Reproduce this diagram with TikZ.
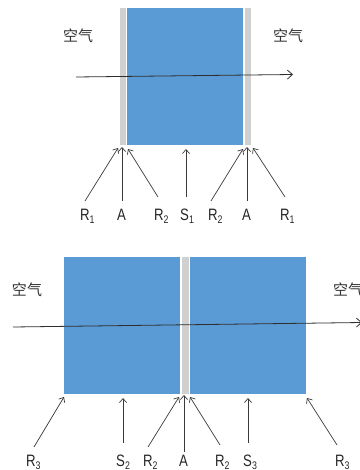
\documentclass[tikz,border=0pt]{standalone}
\usepackage{fontspec}
\newfontfamily\labfont[FakeStretch=0.8]{Liberation Sans}
\newfontfamily\cjkfont{Noto Sans CJK SC}
\usetikzlibrary{arrows.meta}
\definecolor{slab}{HTML}{5B9BD5}
\definecolor{film}{HTML}{D0D0D0}
\definecolor{ink}{HTML}{3A3A3A}
\newcommand{\lbl}[2]{#1{\fontsize{11}{11}\selectfont\raisebox{-3.5pt}{#2}}}
\tikzset{
  slabbox/.style={fill=slab, draw=none},
  filmbox/.style={fill=film, draw=none},
  pointer/.style={draw=ink, line width=0.7pt, -{Straight Barb[length=4pt,width=7pt]}},
  ray/.style={draw=ink!80!black, line width=0.8pt, -{Straight Barb[length=5pt,width=9pt]}},
  lab/.style={inner sep=0pt, anchor=base west, font=\labfont\fontsize{16.5}{16.5}\selectfont, text=black!85},
  air/.style={inner sep=0pt, font=\cjkfont\fontsize{15}{15}\selectfont, text=black!80}
}
\begin{document}
\begin{tikzpicture}[x=1pt,y=-1pt]
\useasboundingbox (0,0) rectangle (359,470);
% ---------- top figure ----------
\fill[filmbox] (120,8) rectangle (125.5,145);
\fill[slabbox] (127,8) rectangle (243,145);
\fill[filmbox] (245,8) rectangle (250.5,145);
\node[air] (airTL) at (78,36) {空气};
\node[air] (airTR) at (288,36) {空气};
\coordinate (rayTs) at (76,77);
\coordinate (rayTe) at (293,74.5);
\draw[ray] (rayTs) -- (rayTe);
% labels
\node[lab] (tR1a) at (80,220) {\lbl{R}{1}};
\node[lab] (tAa)  at (117,220) {A};
\node[lab] (tR2a) at (154,220) {\lbl{R}{2}};
\node[lab] (tS1)  at (180,220) {\lbl{S}{1}};
\node[lab] (tR2b) at (208,220) {\lbl{R}{2}};
\node[lab] (tAb)  at (242,220) {A};
\node[lab] (tR1b) at (280,220) {\lbl{R}{1}};
% pointer coordinates
\coordinate (p1s) at (85,201);  \coordinate (p1e) at (118,148);
\coordinate (p2s) at (122,201); \coordinate (p2e) at (122,147);
\coordinate (p3s) at (158,197); \coordinate (p3e) at (128,149);
\coordinate (p4s) at (186,197); \coordinate (p4e) at (186,149);
\coordinate (p5s) at (211,201); \coordinate (p5e) at (243,149);
\coordinate (p6s) at (247,201); \coordinate (p6e) at (247,147);
\coordinate (p7s) at (285,197); \coordinate (p7e) at (253,148);
\foreach \i in {1,...,7} \draw[pointer] (p\i s) -- (p\i e);
% ---------- bottom figure ----------
\fill[slabbox] (64,257) rectangle (180,394);
\fill[filmbox] (181.5,257) rectangle (188.5,394);
\fill[slabbox] (190,257) rectangle (306,394);
\node[air] (airBL) at (27,290) {空气};
\node[air] (airBR) at (348,290) {空气};
\coordinate (rayBs) at (13,327);
\coordinate (rayBe) at (362,322.5);
\draw[ray] (rayBs) -- (rayBe);
% labels
\node[lab] (bR3a) at (26,466) {\lbl{R}{3}};
\node[lab] (bS2)  at (116,466) {\lbl{S}{2}};
\node[lab] (bR2a) at (143,466) {\lbl{R}{2}};
\node[lab] (bA)   at (179,466) {A};
\node[lab] (bR2b) at (215,466) {\lbl{R}{2}};
\node[lab] (bS3)  at (243,466) {\lbl{S}{3}};
\node[lab] (bR3b) at (335,466) {\lbl{R}{3}};
% pointer coordinates
\coordinate (q1s) at (34,447);  \coordinate (q1e) at (64,397);
\coordinate (q2s) at (123,443); \coordinate (q2e) at (123,398);
\coordinate (q3s) at (148,447); \coordinate (q3e) at (179,397);
\coordinate (q4s) at (184,452); \coordinate (q4e) at (184,395);
\coordinate (q5s) at (220,445); \coordinate (q5e) at (190,397);
\coordinate (q6s) at (248,443); \coordinate (q6e) at (248,398);
\coordinate (q7s) at (337,445); \coordinate (q7e) at (307,398);
\foreach \i in {1,...,7} \draw[pointer] (q\i s) -- (q\i e);
\end{tikzpicture}
\end{document}
